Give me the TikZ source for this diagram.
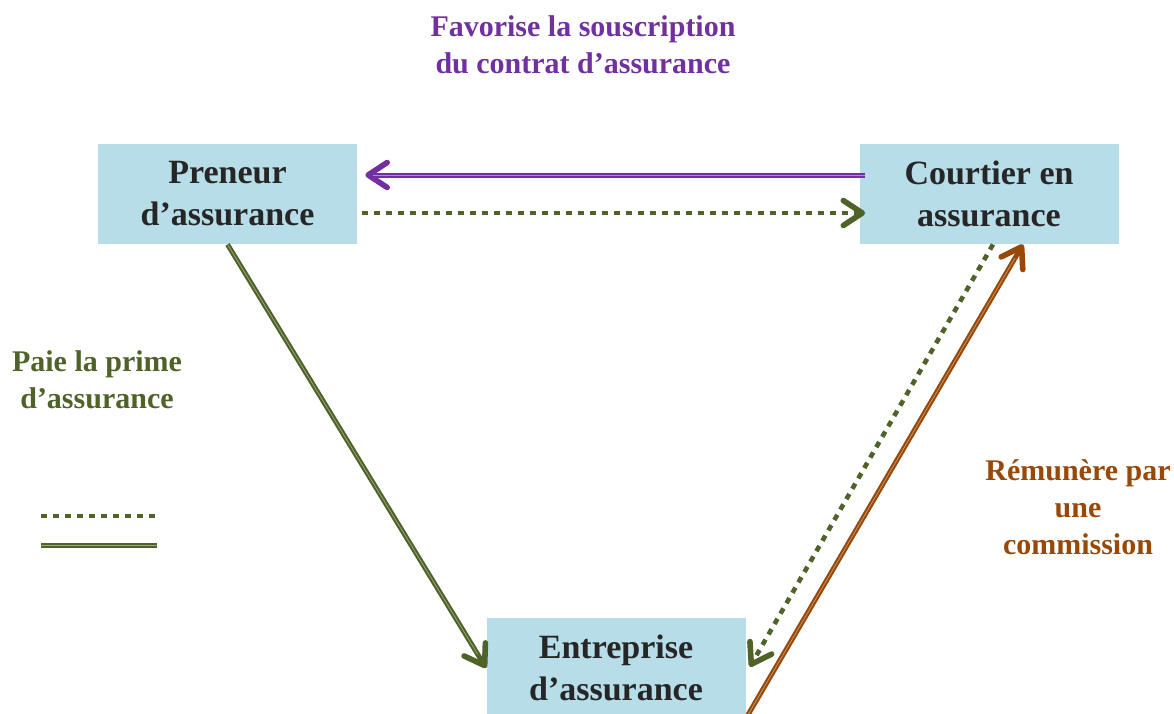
\documentclass[tikz,border=0pt]{standalone}
\usepackage{fontspec}
\setmainfont{Liberation Serif}
\usetikzlibrary{arrows.meta}

\definecolor{boxblue}{HTML}{B7DDE8}
\definecolor{boxtext}{HTML}{262626}
\definecolor{favpurple}{HTML}{7030A0}
\definecolor{paygreen}{HTML}{4F6228}
\definecolor{combrown}{HTML}{984807}

\tikzset{
  box/.style={fill=boxblue, minimum width=129.5pt, minimum height=50pt, inner sep=0pt,
    align=center, text=boxtext, font=\fontsize{17}{21}\selectfont\bfseries},
  lab/.style={align=center, font=\fontsize{15}{18.5}\selectfont\bfseries},
  barb/.style={-{Straight Barb[length=9.5pt, width=12.5pt, line width=2.8pt, round]}},
  solidline/.style={line width=2.5pt, postaction={draw=white, opacity=0.45, line width=0.35pt, -, shorten >=#1}},
  solidline/.default=8pt,
  dotline/.style={line width=2.3pt, dash pattern=on 3pt off 3pt},
}

\begin{document}
\begin{tikzpicture}[x=0.5pt,y=-0.5pt]
\useasboundingbox (0,0) rectangle (1174,713);

%the three actors
\node[box] (preneur) at (227.5,194) {Preneur\\d’assurance};
\node[box] (courtier) at (989,194) {Courtier en\\assurance};
\node[box] (entreprise) at (616,668) {Entreprise\\d’assurance};

%labels
\node[lab, text=favpurple] (favorise) at (583,45) {Favorise la souscription\\du contrat d’assurance};
\node[lab, text=paygreen] (paie) at (97,380) {Paie la prime\\d’assurance};
\node[lab, text=combrown] (remunere) at (1078,507) {Rémunère par\\une\\commission};

%flows between the actors
\draw[solidline, barb, draw=favpurple, shorten <=-3pt, shorten >=4pt] ([yshift=9.5pt]courtier.west) -- ([yshift=9.5pt]preneur.east);
\draw[dotline, barb, draw=paygreen, shorten <=2.5pt, shorten >=-3pt] ([yshift=-9.5pt]preneur.east) -- ([yshift=-9.5pt]courtier.west);
\draw[solidline, barb, draw=paygreen] (preneur.south) -- (entreprise.west);
\draw[dotline, barb, draw=paygreen, shorten >=-1pt] ([xshift=2pt]courtier.south) -- ([xshift=2.5pt,yshift=1.5pt]entreprise.east);
\draw[solidline, barb, draw=combrown] (entreprise.south east) -- ([xshift=17pt]courtier.south);

%legend
\coordinate (dotA) at (41,516);
\coordinate (dotB) at (157,516);
\coordinate (solA) at (41,545);
\coordinate (solB) at (157,545);
\draw[dotline, draw=paygreen] (dotA) -- (dotB);
\draw[solidline=0pt, draw=paygreen] (solA) -- (solB);

\end{tikzpicture}
\end{document}
